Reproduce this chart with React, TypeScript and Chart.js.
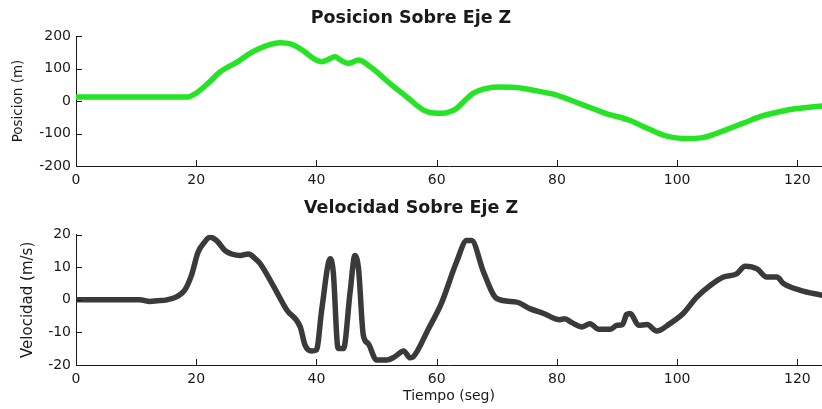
import { useEffect, useRef } from 'react';
import { Chart, registerables } from 'chart.js';

Chart.register(...registerables);

// ---- Data ----
const posTime = [0, 5, 10, 15, 18.4, 19.8, 22, 24, 27, 29, 30.6, 32, 33.9, 35, 36.2, 38, 39.5, 40.9, 42, 43.1, 44, 45.3, 47, 48.9, 50.5, 52.2, 55, 57.8, 59.5, 61, 62.2, 63.3, 64.6, 66.1, 68.3, 70.5, 72.7, 75, 77.2, 79.4, 81.5, 83.9, 86.5, 88.9, 90.5, 92.2, 93.3, 95.5, 97.7, 99.3, 101, 102.7, 104.4, 106.5, 108.8, 111.3, 113.8, 116.3, 118.8, 121.5, 124.1];
const posValues = [12, 12, 12, 12, 12, 22, 55, 90, 122, 147, 162, 172, 179, 178, 172, 152, 131, 121, 128, 136, 126, 116, 126, 106, 82, 54, 13, -28, -37, -38, -33, -23, 0, 24, 39, 43, 42, 37, 29, 21, 8, -9, -27, -43, -50, -60, -69, -88, -105, -112, -115, -115, -112, -100, -84, -66, -48, -36, -26, -20, -15];

const velTime = [0, 5, 10.6, 12.3, 13.5, 15.1, 16.8, 18.1, 19.2, 20.3, 21.3, 22.3, 23.4, 24.8, 26, 27.3, 28.7, 29.6, 30.6, 32.8, 35.1, 37.3, 38.1, 39.2, 40, 40.9, 42.3, 42.8, 43.6, 44.5, 45.6, 46.4, 47, 47.8, 48.6, 50, 51.7, 53, 54.5, 55.6, 56.1, 58.6, 60.8, 63.3, 65, 65.8, 67.8, 70, 73.3, 75.5, 77.8, 80.5, 81.3, 82.5, 84.1, 85.5, 86.9, 88.9, 90, 90.9, 91.6, 92.2, 93.6, 95, 96.6, 98.8, 101, 103.3, 105.5, 107.7, 109.9, 111.3, 113.3, 114.9, 116.6, 117.7, 120.5, 124.1];
const velValues = [0, 0, 0, -0.5, -0.3, 0, 1, 3, 7.5, 14.6, 17.5, 19.2, 18.2, 15.1, 14, 13.6, 14.1, 13, 11.2, 4.4, -3.2, -8.3, -13.9, -15.7, -15.4, -2.7, 12.6, 8.5, -14.9, -14.9, 2.4, 13.6, 9.5, -10.9, -13.4, -18.5, -18.5, -17.5, -15.7, -17.8, -17.5, -9, -1, 11.6, 18.2, 18.2, 8.5, 0.4, -0.7, -2.7, -4.2, -6.1, -5.8, -7, -8.3, -7.3, -9, -9, -7.8, -7.6, -4.5, -4.2, -7.8, -7.6, -9.6, -7.3, -4.2, 0.9, 4.4, 7, 8, 10.3, 9.5, 7, 7, 5, 2.9, 1.4];

const xMin = 0;
const xMax = 124.1;
const xStep = 20;
const posRange = [-200, 200];
const posStep = 100;
const velRange = [-20, 20];
const velStep = 10;

const FONT = 'DejaVu Sans';
const TEXT = '#1a1a1a';

const inwardTicks = {
  id: 'inwardTicks',
  afterDatasetsDraw(chart: any) {
    const { ctx, chartArea, scales } = chart;
    ctx.save();
    ctx.strokeStyle = '#1a1a1a';
    ctx.lineWidth = 1;
    ctx.beginPath();
    scales.x.ticks.forEach((t: any) => {
      const px = Math.round(scales.x.getPixelForValue(t.value)) + 0.5;
      ctx.moveTo(px, chartArea.bottom);
      ctx.lineTo(px, chartArea.bottom - 6);
    });
    scales.y.ticks.forEach((t: any) => {
      const py = Math.round(scales.y.getPixelForValue(t.value)) + 0.5;
      ctx.moveTo(chartArea.left, py);
      ctx.lineTo(chartArea.left + 6, py);
    });
    ctx.stroke();
    ctx.restore();
  },
};

function makeConfig(opts: {
  xs: number[];
  ys: number[];
  color: string;
  title: string;
  titlePad: { top: number; bottom: number };
  yTitle: string;
  yTitleSize: number;
  yTitlePad: number;
  yRange: number[];
  yStep: number;
  xTitle?: string;
  xHeight: number;
}): any {
  return {
    type: 'line',
    data: {
      datasets: [
        {
          data: opts.xs.map((x, i) => ({ x, y: opts.ys[i] })),
          borderColor: opts.color,
          borderWidth: 5.5,
          pointRadius: 0,
          fill: false,
          cubicInterpolationMode: 'monotone',
          borderJoinStyle: 'round',
          borderCapStyle: 'round',
        },
      ],
    },
    options: {
      animation: false,
      responsive: false,
      devicePixelRatio: 1,
      layout: { padding: 0 },
      plugins: {
        legend: { display: false },
        tooltip: { enabled: false },
        title: {
          display: true,
          text: opts.title,
          color: TEXT,
          font: { family: FONT, size: 17.5, weight: 'bold', lineHeight: 1.2 },
          padding: opts.titlePad,
        },
      },
      scales: {
        x: {
          type: 'linear',
          min: xMin,
          max: xMax,
          grid: { display: false, drawTicks: false },
          border: { display: true, color: '#1a1a1a', width: 1 },
          ticks: {
            stepSize: xStep,
            includeBounds: false,
            color: TEXT,
            padding: 5.5,
            maxRotation: 0,
            font: { family: FONT, size: 14 },
          },
          title: opts.xTitle
            ? {
                display: true,
                text: opts.xTitle,
                color: TEXT,
                font: { family: FONT, size: 14, lineHeight: 1.2 },
                padding: { top: 0, bottom: 4 },
              }
            : { display: false },
          afterFit: (s: any) => {
            s.height = opts.xHeight;
          },
        },
        y: {
          type: 'linear',
          min: opts.yRange[0],
          max: opts.yRange[1],
          grid: { display: false, drawTicks: false },
          border: { display: true, color: '#1a1a1a', width: 1 },
          ticks: {
            stepSize: opts.yStep,
            color: TEXT,
            padding: 5,
            font: { family: FONT, size: 14 },
          },
          title: {
            display: true,
            text: opts.yTitle,
            color: TEXT,
            font: { family: FONT, size: opts.yTitleSize, lineHeight: 1.2 },
            padding: { top: opts.yTitlePad, bottom: 0 },
          },
          afterFit: (s: any) => {
            s.width = 76;
          },
        },
      },
    },
    plugins: [inwardTicks],
  };
}

export default function App() {
  const topRef = useRef<HTMLCanvasElement>(null);
  const botRef = useRef<HTMLCanvasElement>(null);

  useEffect(() => {
    const top = new Chart(
      topRef.current as HTMLCanvasElement,
      makeConfig({
        xs: posTime,
        ys: posValues,
        color: '#26e326',
        title: 'Posicion Sobre Eje Z',
        titlePad: { top: 7.5, bottom: 7.5 },
        yTitle: 'Posicion (m)',
        yTitleSize: 13.5,
        yTitlePad: 10.6,
        yRange: posRange,
        yStep: posStep,
        xHeight: 29,
      })
    );
    const bot = new Chart(
      botRef.current as HTMLCanvasElement,
      makeConfig({
        xs: velTime,
        ys: velValues,
        color: '#3a3a3a',
        title: 'Velocidad Sobre Eje Z',
        titlePad: { top: 3.2, bottom: 15.5 },
        yTitle: 'Velocidad (m/s)',
        yTitleSize: 15,
        yTitlePad: 19,
        yRange: velRange,
        yStep: velStep,
        xTitle: 'Tiempo (seg)',
        xHeight: 44,
      })
    );
    return () => {
      top.destroy();
      bot.destroy();
    };
  }, []);

  return (
    <div style={{ position: 'absolute', left: 0, top: 0, width: 822, height: 409, background: '#fff' }}>
      <canvas ref={topRef} width={822} height={195} style={{ position: 'absolute', left: 0, top: 0 }} />
      <canvas ref={botRef} width={822} height={214} style={{ position: 'absolute', left: 0, top: 195 }} />
    </div>
  );
}
